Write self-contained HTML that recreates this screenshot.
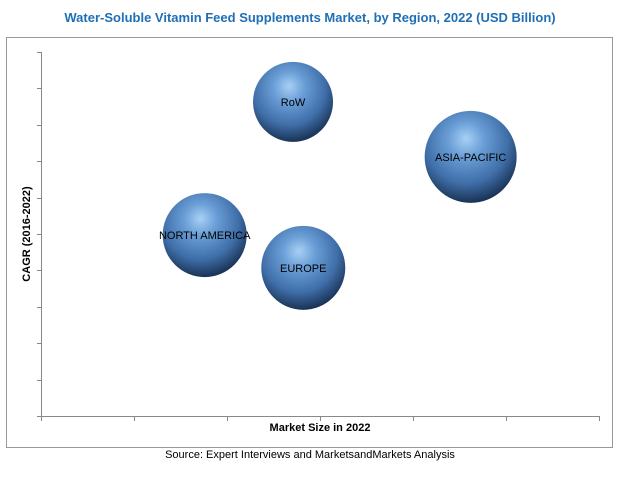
<!DOCTYPE html>
<html><head><meta charset="utf-8"><style>
body{margin:0;background:#fff;font-family:"Liberation Sans",sans-serif}
</style></head><body>
<svg width="620" height="495" viewBox="0 0 620 495" xmlns="http://www.w3.org/2000/svg">
<defs>
<radialGradient id="sph" cx="0.45" cy="0.35" r="0.65" fx="0.45" fy="0.3">
<stop offset="0" stop-color="#a8d0f5"/>
<stop offset="0.3" stop-color="#6a9ed6"/>
<stop offset="0.7" stop-color="#3f6ea8"/>
<stop offset="1" stop-color="#1a3356"/>
</radialGradient>
</defs>
<text x="310" y="22" text-anchor="middle" font-size="13" font-weight="bold" fill="#1f6fb5">Water-Soluble Vitamin Feed Supplements Market, by Region, 2022 (USD Billion)</text>
<rect x="6.5" y="37.5" width="606" height="410" fill="none" stroke="#999"/>
<g id="axes"></g>
<g id="bubbles"></g>
<text x="320" y="431" text-anchor="middle" font-size="11" font-weight="bold" fill="#000">Market Size in 2022</text>
<text transform="translate(30,234) rotate(-90)" text-anchor="middle" font-size="11" font-weight="bold" fill="#000">CAGR (2016-2022)</text>
<text x="310" y="458" text-anchor="middle" font-size="11" fill="#000">Source: Expert Interviews and MarketsandMarkets Analysis</text>
</svg>
<script>
const regions = ["RoW", "ASIA-PACIFIC", "NORTH AMERICA", "EUROPE"];
const marketSize = [2.71, 4.62, 1.76, 2.82];
const cagr = [8.63, 7.12, 4.97, 4.07];
const bubbleSize = [40, 46, 42, 42];
const xTicks = [0,1,2,3,4,5,6];
const yTicks = [0,1,2,3,4,5,6,7,8,9,10];

const NS="http://www.w3.org/2000/svg";
const X0=41, X1=599, Y0=416, Y1=52;
const xs=v=>X0+(v-0)/6*(X1-X0);
const ys=v=>Y0-(v-0)/10*(Y0-Y1);
function mk(tag,attrs,parent){const e=document.createElementNS(NS,tag);for(const k in attrs)e.setAttribute(k,attrs[k]);parent.appendChild(e);return e;}
const axes=document.getElementById('axes');
const ya=mk('line',{x1:X0+.5,y1:Y1,x2:X0+.5,y2:Y0,stroke:'#888'},axes);


const xa=mk('line',{x1:X0,y1:Y0+.5,x2:X1,y2:Y0+.5,stroke:'#888'},axes);


yTicks.forEach(t=>{const l=mk('line',{x1:X0-4,y1:Math.round(ys(t))+.5,x2:X0,y2:Math.round(ys(t))+.5,stroke:'#888'},axes);

});
xTicks.forEach(t=>{const l=mk('line',{x1:Math.round(xs(t))+.5,y1:Y0,x2:Math.round(xs(t))+.5,y2:Y0+5,stroke:'#888'},axes);

});
const bg=document.getElementById('bubbles');
regions.forEach((r,i)=>{
 const cx=xs(marketSize[i]), cy=ys(cagr[i]);
 const c=mk('circle',{cx:cx,cy:cy,r:bubbleSize[i],fill:'url(#sph)'},bg);
 
 
 const t=mk('text',{x:cx,y:cy+4,'text-anchor':'middle','font-size':'11',fill:'#000'},bg);
 t.textContent=r;
 
 
});
</script>
</body></html>
